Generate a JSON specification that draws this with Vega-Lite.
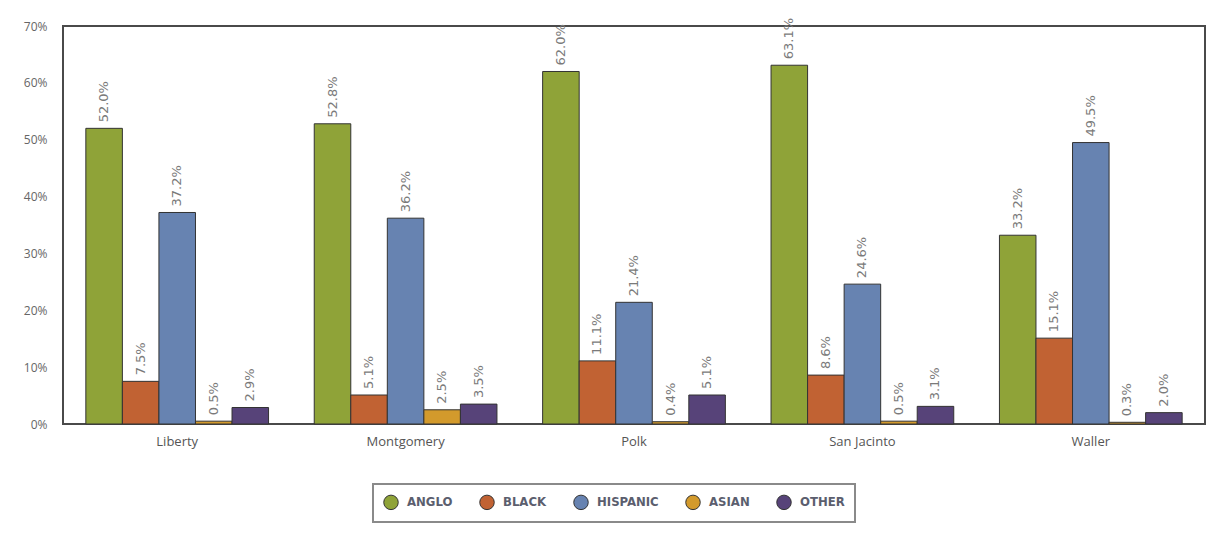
{
  "$schema": "https://vega.github.io/schema/vega-lite/v6.json",
  "width": 1142,
  "height": 398,
  "autosize": "none",
  "padding": {"left": 63, "top": 26, "right": 6, "bottom": 113},
  "background": "#ffffff",
  "config": {
    "view": {"stroke": "#4a4a4a", "strokeWidth": 2},
    "font": "Open Sans",
    "axis": {"labelColor": "#666666", "labelFont": "Open Sans", "labelFontSize": 12, "grid": false, "domain": false, "ticks": false, "labelOverlap": false},
    "legend": {
      "labelFont": "DejaVu Sans Condensed",
      "labelFontWeight": "bold",
      "labelFontSize": 13,
      "labelColor": "#5b5e6e",
      "strokeColor": "#8a8a8a",
      "strokeWidth": 2,
      "padding": 10,
      "symbolType": "circle",
      "symbolSize": 210,
      "symbolStrokeColor": "#333333",
      "symbolStrokeWidth": 1,
      "columnPadding": 24,
      "labelOffset": 8
    }
  },
  "data": {
    "values": [
      {"county": "Liberty", "group": "ANGLO", "share": 0.520},
      {"county": "Liberty", "group": "BLACK", "share": 0.075},
      {"county": "Liberty", "group": "HISPANIC", "share": 0.372},
      {"county": "Liberty", "group": "ASIAN", "share": 0.005},
      {"county": "Liberty", "group": "OTHER", "share": 0.029},
      {"county": "Montgomery", "group": "ANGLO", "share": 0.528},
      {"county": "Montgomery", "group": "BLACK", "share": 0.051},
      {"county": "Montgomery", "group": "HISPANIC", "share": 0.362},
      {"county": "Montgomery", "group": "ASIAN", "share": 0.025},
      {"county": "Montgomery", "group": "OTHER", "share": 0.035},
      {"county": "Polk", "group": "ANGLO", "share": 0.620},
      {"county": "Polk", "group": "BLACK", "share": 0.111},
      {"county": "Polk", "group": "HISPANIC", "share": 0.214},
      {"county": "Polk", "group": "ASIAN", "share": 0.004},
      {"county": "Polk", "group": "OTHER", "share": 0.051},
      {"county": "San Jacinto", "group": "ANGLO", "share": 0.631},
      {"county": "San Jacinto", "group": "BLACK", "share": 0.086},
      {"county": "San Jacinto", "group": "HISPANIC", "share": 0.246},
      {"county": "San Jacinto", "group": "ASIAN", "share": 0.005},
      {"county": "San Jacinto", "group": "OTHER", "share": 0.031},
      {"county": "Waller", "group": "ANGLO", "share": 0.332},
      {"county": "Waller", "group": "BLACK", "share": 0.151},
      {"county": "Waller", "group": "HISPANIC", "share": 0.495},
      {"county": "Waller", "group": "ASIAN", "share": 0.003},
      {"county": "Waller", "group": "OTHER", "share": 0.020}
    ]
  },
  "encoding": {
    "x": {
      "field": "county", "type": "nominal", "sort": null, "title": null,
      "scale": {"paddingInner": 0.2, "paddingOuter": 0.1},
      "axis": {"labelAngle": 0, "labelPadding": 11, "labelColor": "#555555", "labelFontSize": 13}
    },
    "xOffset": {
      "field": "group", "type": "nominal",
      "scale": {"domain": ["ANGLO", "BLACK", "HISPANIC", "ASIAN", "OTHER"], "paddingInner": 0, "paddingOuter": 0}
    },
    "y": {
      "field": "share", "type": "quantitative", "title": null,
      "scale": {"domain": [0, 0.7], "nice": false},
      "axis": {"format": ".0%", "values": [0, 0.1, 0.2, 0.3, 0.4, 0.5, 0.6, 0.7], "labelPadding": 16, "labelFlush": false}
    }
  },
  "layer": [
    {
      "mark": {"type": "bar", "stroke": "#333333", "strokeWidth": 1},
      "encoding": {
        "color": {
          "field": "group", "type": "nominal", "title": null,
          "scale": {
            "domain": ["ANGLO", "BLACK", "HISPANIC", "ASIAN", "OTHER"],
            "range": ["#8fa338", "#c16233", "#6783b1", "#d39a2c", "#574379"]
          },
          "legend": {"orient": "none", "legendX": 310, "legendY": 458, "direction": "horizontal"}
        }
      }
    },
    {
      "mark": {"type": "text", "angle": -90, "align": "left", "baseline": "middle", "dx": 6, "fontSize": 13, "color": "#7a7a7a", "font": "DejaVu Sans"},
      "encoding": {
        "text": {"field": "share", "type": "quantitative", "format": ".1%"}
      }
    }
  ]
}
